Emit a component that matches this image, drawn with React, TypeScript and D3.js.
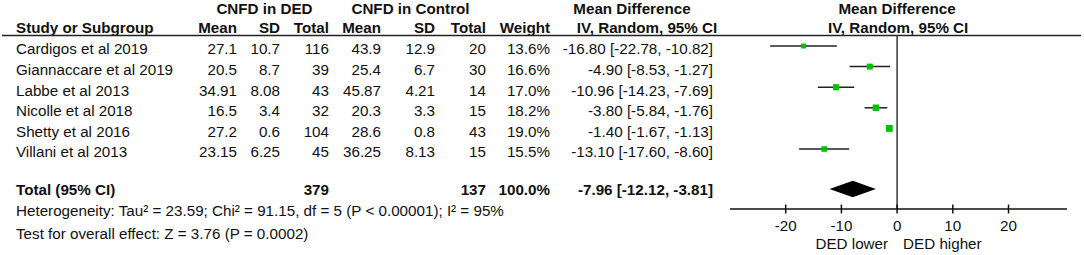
import React from "react";
import * as d3 from "d3";

const studies = ["Cardigos et al 2019", "Giannaccare et al 2019", "Labbe et al 2013", "Nicolle et al 2018", "Shetty et al 2016", "Villani et al 2013"];
const dedMean = ["27.1", "20.5", "34.91", "16.5", "27.2", "23.15"];
const dedSD = ["10.7", "8.7", "8.08", "3.4", "0.6", "6.25"];
const dedTotal = [116, 39, 43, 32, 104, 45];
const ctlMean = ["43.9", "25.4", "45.87", "20.3", "28.6", "36.25"];
const ctlSD = ["12.9", "6.7", "4.21", "3.3", "0.8", "8.13"];
const ctlTotal = [20, 30, 14, 15, 43, 15];
const weights = [13.6, 16.6, 17.0, 18.2, 19.0, 15.5];
const md = [-16.8, -4.9, -10.96, -3.8, -1.4, -13.1];
const lo = [-22.78, -8.53, -14.23, -5.84, -1.67, -17.6];
const hi = [-10.82, -1.27, -7.69, -1.76, -1.13, -8.6];
const totalDed = 379;
const totalCtl = 137;
const totalWeight = "100.0%";
const totalMd = -7.96;
const totalLo = -12.12;
const totalHi = -3.81;
const heterogeneity = "Heterogeneity: Tau² = 23.59; Chi² = 91.15, df = 5 (P < 0.00001); I² = 95%";
const overall = "Test for overall effect: Z = 3.76 (P = 0.0002)";
const ticks = [-20, -10, 0, 10, 20];
const favLeft = "DED lower";
const favRight = "DED higher";

const f2 = (n: number) => n.toFixed(2);
const ciText = (m: number, l: number, h: number) => `${f2(m)} [${f2(l)}, ${f2(h)}]`;

export default function App() {
  const W = 1084, H = 255;
  const x = d3.scaleLinear().domain([-30, 30.5]).range([730, 1067]);
  const y = d3.scaleLinear().domain([0, 5]).range([46, 149]);
  const totalY = 189;
  const axisY = 209;
  const fs = 15.2;
  const base = 5.4;
  const textOff = 3;
  const font = "'Liberation Sans', Arial, sans-serif";
  const left = 16;
  const col = { mean1: 237, sd1: 280, tot1: 329, mean2: 381, sd2: 435, tot2: 486, w: 550, ci: 713 };
  const txt = "#111";
  const size = d3.scaleLinear().domain([0, 20]).range([0, 7.2]);

  return (
    <svg width={W} height={H} style={{ position: "absolute", left: 0, top: 0, background: "#fff" }} fontFamily={font} fontSize={fs} fill={txt}>
      {/* headers */}
      <g fontWeight="bold">
        <text x={(col.mean1 - 37 + col.tot1) / 2} y={9 + base} textAnchor="middle">CNFD in DED</text>
        <text x={(col.mean2 - 46 + col.tot2) / 2} y={9 + base} textAnchor="middle">CNFD in Control</text>
        <text x={632} y={9 + base} textAnchor="middle">Mean Difference</text>
        <text x={x(0)} y={9 + base} textAnchor="middle">Mean Difference</text>
        <text x={left} y={28 + base}>Study or Subgroup</text>
        <text x={col.mean1} y={28 + base} textAnchor="end">Mean</text>
        <text x={col.sd1} y={28 + base} textAnchor="end">SD</text>
        <text x={col.tot1} y={28 + base} textAnchor="end">Total</text>
        <text x={col.mean2} y={28 + base} textAnchor="end">Mean</text>
        <text x={col.sd2} y={28 + base} textAnchor="end">SD</text>
        <text x={col.tot2} y={28 + base} textAnchor="end">Total</text>
        <text x={col.w} y={28 + base} textAnchor="end">Weight</text>
        <text x={647} y={28 + base} textAnchor="middle">IV, Random, 95% CI</text>
        <text x={x(0) + 1} y={28 + base} textAnchor="middle">IV, Random, 95% CI</text>
      </g>
      <line x1={2} x2={1081} y1={35.5} y2={35.5} stroke="#222" strokeWidth={1.6} />

      {/* study rows */}
      {studies.map((s, i) => {
        const yy = y(i) + textOff + base;
        return (
          <g key={s}>
            <text x={left} y={yy}>{s}</text>
            <text x={col.mean1} y={yy} textAnchor="end">{dedMean[i]}</text>
            <text x={col.sd1} y={yy} textAnchor="end">{dedSD[i]}</text>
            <text x={col.tot1} y={yy} textAnchor="end">{dedTotal[i]}</text>
            <text x={col.mean2} y={yy} textAnchor="end">{ctlMean[i]}</text>
            <text x={col.sd2} y={yy} textAnchor="end">{ctlSD[i]}</text>
            <text x={col.tot2} y={yy} textAnchor="end">{ctlTotal[i]}</text>
            <text x={col.w} y={yy} textAnchor="end">{weights[i].toFixed(1)}%</text>
            <text x={col.ci} y={yy} textAnchor="end">{ciText(md[i], lo[i], hi[i])}</text>
          </g>
        );
      })}

      {/* total row */}
      <g fontWeight="bold">
        <text x={left} y={totalY + 0.5 + base}>Total (95% CI)</text>
        <text x={col.tot1} y={totalY + 0.5 + base} textAnchor="end">{totalDed}</text>
        <text x={col.tot2} y={totalY + 0.5 + base} textAnchor="end">{totalCtl}</text>
        <text x={col.w} y={totalY + 0.5 + base} textAnchor="end">{totalWeight}</text>
        <text x={col.ci} y={totalY + 0.5 + base} textAnchor="end">{ciText(totalMd, totalLo, totalHi)}</text>
      </g>
      <text x={left} y={211 + base}>{heterogeneity}</text>
      <text x={left} y={233.5 + base}>{overall}</text>

      {/* plot: zero line */}
      <line x1={x(0)} x2={x(0)} y1={35.5} y2={axisY} stroke="#444" strokeWidth={1.6} />

      {/* CIs and squares */}
      {studies.map((s, i) => {
        const yy = y(i);
        const sz = size(weights[i]);
        return (
          <g key={"p" + s}>
            <line x1={x(lo[i])} x2={x(hi[i])} y1={yy} y2={yy} stroke="#222" strokeWidth={1.5} />
            <rect x={x(md[i]) - sz / 2} y={yy - sz / 2} width={sz} height={sz} fill="#00c000" />
          </g>
        );
      })}

      {/* diamond */}
      <path
        d={`M${x(totalLo)},${totalY} L${x(totalMd)},${totalY - 8.3} L${x(totalHi)},${totalY} L${x(totalMd)},${totalY + 8.3} Z`}
        fill="#000"
      />

      {/* axis */}
      <line x1={x(-30)} x2={x(30.5)} y1={axisY} y2={axisY} stroke="#111" strokeWidth={1.5} />
      {ticks.map((t) => (
        <g key={t}>
          <line x1={x(t)} x2={x(t)} y1={axisY - 4.5} y2={axisY + 4.5} stroke="#111" strokeWidth={1.5} />
          <text x={x(t)} y={225.5 + base} textAnchor="middle">{t}</text>
        </g>
      ))}
      <text x={x(0) - 9} y={243.5 + base} textAnchor="end">{favLeft}</text>
      <text x={x(0) + 6} y={243.5 + base} textAnchor="start">{favRight}</text>
    </svg>
  );
}
